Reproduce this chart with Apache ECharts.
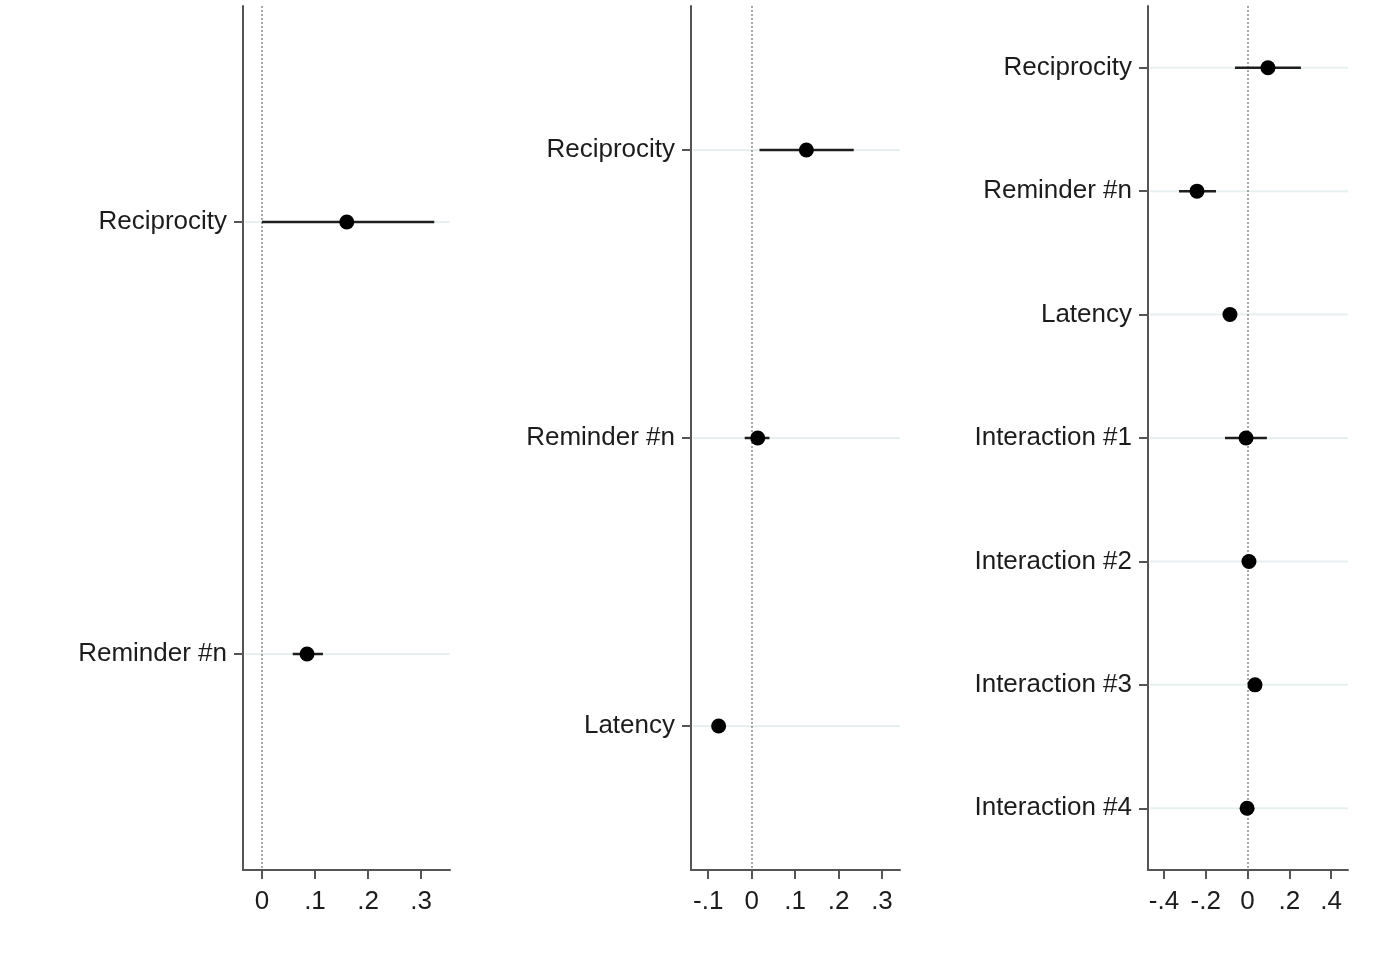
<!DOCTYPE html>
<html>
<head>
<meta charset="utf-8">
<script src="https://cdn.jsdelivr.net/npm/echarts@6/dist/echarts.min.js"></script>
<style>
html,body{margin:0;padding:0;background:#fff;}
#chart{width:1383px;height:962px;}
</style>
</head>
<body>
<div id="chart"></div>
<script>
// ---- Panel 1 ----
const panel1Categories = ['Reciprocity', 'Reminder #n'];
const panel1Estimates = [0.160, 0.085];
const panel1Lower = [0.000, 0.058];
const panel1Upper = [0.325, 0.115];
const panel1TickValues = [0, 0.1, 0.2, 0.3];
const panel1TickLabels = ['0', '.1', '.2', '.3'];

// ---- Panel 2 ----
const panel2Categories = ['Reciprocity', 'Reminder #n', 'Latency'];
const panel2Estimates = [0.126, 0.014, -0.076];
const panel2Lower = [0.018, -0.016, -0.080];
const panel2Upper = [0.235, 0.041, -0.072];
const panel2TickValues = [-0.1, 0, 0.1, 0.2, 0.3];
const panel2TickLabels = ['-.1', '0', '.1', '.2', '.3'];

// ---- Panel 3 ----
const panel3Categories = ['Reciprocity', 'Reminder #n', 'Latency', 'Interaction #1', 'Interaction #2', 'Interaction #3', 'Interaction #4'];
const panel3Estimates = [0.098, -0.242, -0.084, -0.007, 0.007, 0.036, -0.002];
const panel3Lower = [-0.060, -0.328, -0.090, -0.108, 0.000, 0.030, -0.008];
const panel3Upper = [0.256, -0.151, -0.078, 0.093, 0.014, 0.042, 0.004];
const panel3TickValues = [-0.4, -0.2, 0, 0.2, 0.4];
const panel3TickLabels = ['-.4', '-.2', '0', '.2', '.4'];

const panels = [
  {cats: panel1Categories, est: panel1Estimates, lo: panel1Lower, hi: panel1Upper, tv: panel1TickValues, tl: panel1TickLabels,
   grid: {left: 243, width: 207}, min: -0.0358, max: 0.3547},
  {cats: panel2Categories, est: panel2Estimates, lo: panel2Lower, hi: panel2Upper, tv: panel2TickValues, tl: panel2TickLabels,
   grid: {left: 691, width: 209}, min: -0.1396, max: 0.3415},
  {cats: panel3Categories, est: panel3Estimates, lo: panel3Lower, hi: panel3Upper, tv: panel3TickValues, tl: panel3TickLabels,
   grid: {left: 1148, width: 200}, min: -0.4766, max: 0.4814}
];

const FONT = 'Liberation Sans, Arial, sans-serif';
const TEXT = '#1c1c1c';
const AXIS = '#555555';

const grids = [], xAxes = [], yAxes = [], series = [];
panels.forEach((p, i) => {
  grids.push({left: p.grid.left, width: p.grid.width, top: 6, height: 864, containLabel: false});
  xAxes.push({
    type: 'value', gridIndex: i, min: p.min, max: p.max,
    axisLine: {show: true, onZero: false, lineStyle: {color: AXIS, width: 2}},
    axisTick: {show: true, inside: false, length: 9, customValues: p.tv, lineStyle: {color: AXIS, width: 2}},
    axisLabel: {show: true, customValues: p.tv, margin: 19, color: TEXT, fontFamily: FONT, fontSize: 26,
      formatter: function (v) {
        const k = p.tv.findIndex(t => Math.abs(t - v) < 1e-9);
        return k >= 0 ? p.tl[k] : '';
      }},
    splitLine: {show: false}
  });
  yAxes.push({
    type: 'category', gridIndex: i, data: p.cats, inverse: true, boundaryGap: true,
    axisLine: {show: true, onZero: false, lineStyle: {color: AXIS, width: 2}},
    axisTick: {show: true, inside: false, length: 9, alignWithLabel: true, lineStyle: {color: AXIS, width: 2}},
    axisLabel: {show: true, margin: 16, color: TEXT, fontFamily: FONT, fontSize: 26},
    splitLine: {show: false}
  });
  // faint horizontal gridlines at each category
  series.push({
    type: 'custom', xAxisIndex: i, yAxisIndex: i, silent: true, z: 1,
    data: p.cats.map((c, k) => [p.min, k]),
    renderItem: function (params, api) {
      const pt = api.coord([p.min, api.value(1)]);
      const cs = params.coordSys;
      return {type: 'line', shape: {x1: cs.x + 2, y1: pt[1], x2: cs.x + cs.width, y2: pt[1]},
        style: {stroke: '#e7f0f0', lineWidth: 2}};
    },
    markLine: {
      silent: true, symbol: 'none', label: {show: false}, z: 2,
      lineStyle: {color: '#8a8a8a', type: [2, 2], width: 1.5},
      data: [{xAxis: 0}]
    }
  });
  // confidence intervals
  series.push({
    type: 'custom', xAxisIndex: i, yAxisIndex: i, silent: true, z: 3,
    data: p.cats.map((c, k) => [p.lo[k], p.hi[k], k]),
    renderItem: function (params, api) {
      const a = api.coord([api.value(0), api.value(2)]);
      const b = api.coord([api.value(1), api.value(2)]);
      return {type: 'line', shape: {x1: a[0], y1: a[1], x2: b[0], y2: b[1]},
        style: {stroke: '#1e1e1e', lineWidth: 2.5}};
    }
  });
  // point estimates
  series.push({
    type: 'scatter', xAxisIndex: i, yAxisIndex: i, z: 4, silent: true,
    symbol: 'circle', symbolSize: 15,
    itemStyle: {color: '#000', opacity: 1},
    data: p.cats.map((c, k) => [p.est[k], k])
  });
});

const chart = echarts.init(document.getElementById('chart'), null, {renderer: 'canvas'});
chart.setOption({
  backgroundColor: '#ffffff',
  animation: false,
  grid: grids, xAxis: xAxes, yAxis: yAxes, series: series
});
</script>
</body>
</html>
